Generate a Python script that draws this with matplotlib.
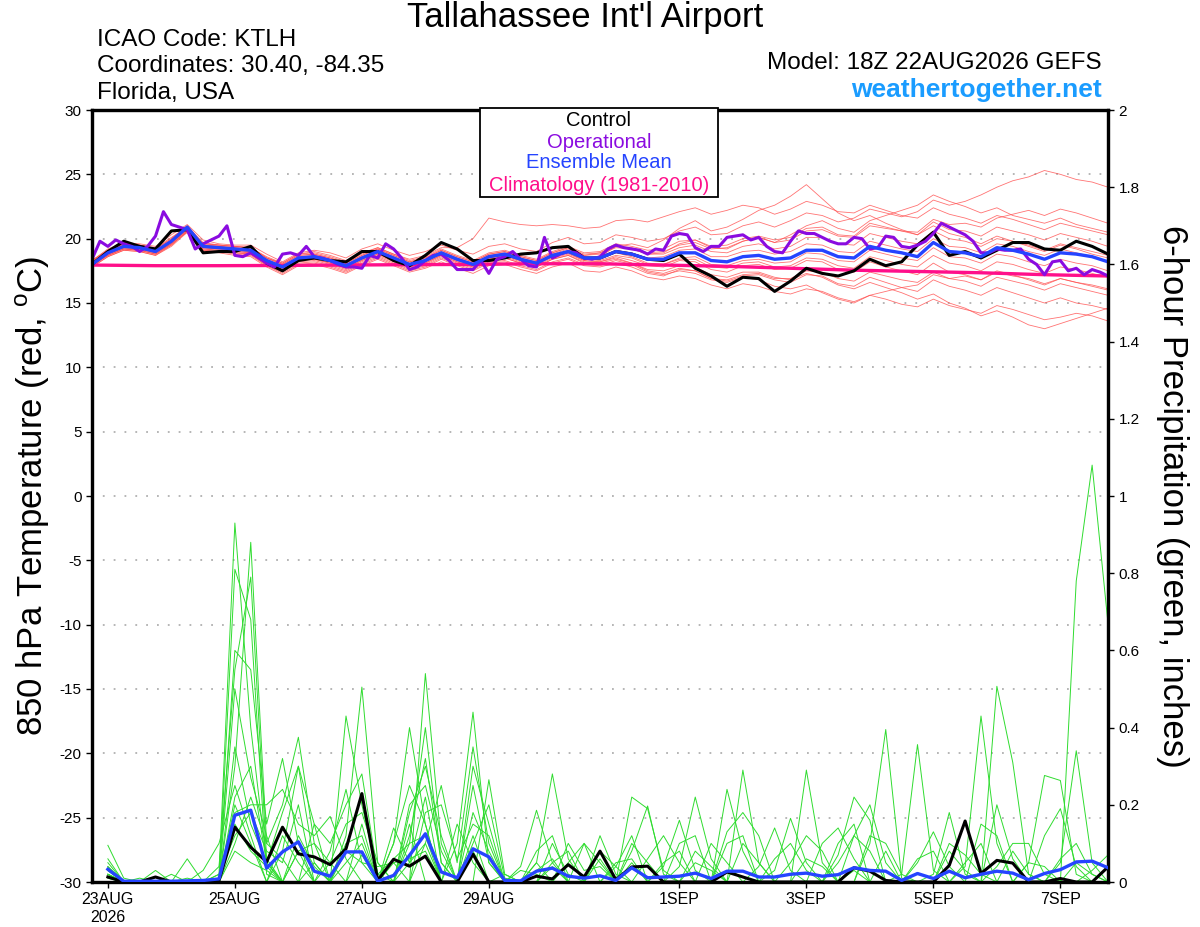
import numpy as np
import matplotlib
matplotlib.use("Agg")
import matplotlib.pyplot as plt
from matplotlib.patches import Rectangle

plt.rcParams['font.family'] = ['Liberation Sans', 'DejaVu Sans']
plt.rcParams['axes.unicode_minus'] = False

# hours after 18Z 22AUG2026
tick_hours = [6, 54, 102, 150, 222, 270, 318, 366]
tick_labels = ["23AUG\n2026", "25AUG", "27AUG", "29AUG", "1SEP", "3SEP", "5SEP", "7SEP"]

# 850 hPa temperature, 6-hourly (65 values)
control_t = [18.0, 19.0, 19.8, 19.4, 19.2, 20.6, 20.7, 18.9, 19.0, 19.0, 19.4, 18.1, 17.5,
             18.3, 18.5, 18.3, 18.2, 19.0, 19.0, 18.3, 17.9, 18.7, 19.7, 19.2, 18.3, 18.3,
             18.5, 18.8, 18.9, 19.3, 19.4, 18.5, 18.5, 19.0, 18.8, 18.4, 18.3, 18.8, 17.7,
             17.1, 16.3, 17.0, 16.9, 15.9, 16.7, 17.7, 17.3, 17.1, 17.5, 18.4, 17.9, 18.2,
             19.5, 20.5, 18.7, 19.0, 18.5, 19.1, 19.7, 19.7, 19.2, 19.1, 19.8, 19.4, 18.8]
mean_t = [18.0, 18.9, 19.4, 19.3, 19.0, 19.8, 20.9, 19.4, 19.3, 19.2, 19.1, 18.3, 17.8,
          18.5, 18.6, 18.3, 17.9, 18.5, 19.0, 18.5, 18.0, 18.3, 18.9, 18.4, 18.0, 18.6,
          18.8, 18.4, 18.1, 18.7, 19.0, 18.5, 18.5, 19.0, 18.8, 18.4, 18.4, 18.9, 18.9,
          18.3, 18.2, 18.6, 18.7, 18.4, 18.5, 19.1, 19.1, 18.6, 18.5, 19.4, 19.1, 18.9,
          18.6, 19.7, 19.0, 18.9, 18.6, 19.3, 19.1, 18.8, 18.4, 18.9, 18.8, 18.6, 18.2]
# operational run is 3-hourly (129 values)
oper_t = [18.4, 19.8, 19.4, 19.9, 19.6, 19.4, 19.0, 19.4, 20.2, 22.1, 21.1, 20.9, 20.7,
          19.2, 19.6, 19.9, 20.2, 21.0, 18.7, 18.6, 18.9, 18.5, 18.1, 17.8, 18.8, 18.9,
          18.7, 19.4, 18.6, 18.5, 18.3, 18.0, 17.8, 17.8, 17.7, 18.7, 18.5, 19.6, 19.2,
          18.5, 17.6, 17.8, 18.3, 18.7, 18.8, 18.3, 17.6, 17.6, 17.6, 18.3, 17.3, 18.4,
          18.6, 19.0, 18.4, 17.9, 17.8, 20.1, 18.5, 18.8, 19.0, 18.9, 18.5, 18.4, 18.6,
          19.2, 19.5, 19.3, 19.2, 19.1, 18.8, 19.2, 19.1, 20.2, 20.4, 20.3, 19.3, 19.0,
          19.4, 19.4, 20.1, 20.2, 20.3, 19.9, 20.1, 19.4, 19.0, 18.9, 19.8, 20.6, 20.4,
          20.4, 20.1, 19.8, 19.6, 19.6, 20.1, 20.0, 19.2, 19.3, 20.2, 20.1, 19.4, 19.3,
          19.5, 19.8, 20.4, 21.2, 20.9, 20.6, 20.3, 19.8, 18.9, 18.9, 19.2, 19.1, 19.1,
          19.2, 18.4, 18.0, 17.2, 18.2, 18.3, 17.5, 17.7, 17.2, 17.6, 17.4, 17.1]
# climatology, daily
clim_t = [17.95, 17.9, 17.9, 17.92, 17.95, 17.98, 18.0, 18.05, 18.05, 17.95, 17.85,
          17.7, 17.55, 17.45, 17.35, 17.2, 17.1]

members_t = [
    [18.3, 19.2, 19.7, 19.6, 19.4, 20.3, 21.1, 19.9, 19.6, 19.5, 19.5, 18.8, 18.2,
     18.9, 19.1, 18.9, 18.5, 19.2, 19.6, 19.1, 18.7, 19.0, 19.5, 19.1, 18.8, 19.4,
     19.6, 19.2, 19.0, 19.7, 20.1, 19.6, 19.7, 20.3, 20.1, 19.8, 20.0, 20.6, 20.9,
     20.3, 20.4, 21.0, 21.3, 20.9, 21.4, 22.0, 21.8, 21.3, 21.6, 22.3, 22.0, 21.7,
     22.1, 23.0, 22.6, 22.9, 23.4, 24.0, 24.5, 24.8, 25.3, 25.0, 24.6, 24.4, 24.0],
    [17.8, 18.6, 19.1, 19.0, 18.7, 19.5, 20.6, 19.0, 18.9, 18.7, 18.6, 17.8, 17.2,
     17.9, 18.0, 17.7, 17.3, 17.9, 18.4, 17.9, 17.4, 17.7, 18.2, 17.7, 17.3, 17.9,
     18.0, 17.6, 17.3, 17.8, 18.1, 17.5, 17.4, 17.8, 17.5, 17.0, 16.8, 17.1, 16.9,
     16.4, 16.1, 16.5, 16.3, 15.9, 15.7, 16.1, 15.9, 15.4, 15.1, 15.6, 15.3, 14.9,
     14.7, 15.3, 14.8, 14.5, 14.2, 14.8, 14.5, 14.1, 13.7, 13.9, 14.2, 14.0, 13.6],
    [18.1, 18.8, 19.3, 19.2, 18.9, 19.6, 20.7, 19.3, 19.2, 19.0, 18.9, 18.1, 17.6,
     18.3, 18.4, 18.1, 17.7, 18.3, 18.8, 18.3, 17.8, 18.1, 18.7, 18.2, 17.8, 18.4,
     18.6, 18.2, 17.9, 18.5, 18.8, 18.3, 18.6, 19.4, 19.6, 19.3, 19.9, 20.8, 21.4,
     20.6, 20.9, 21.5, 22.2, 22.6, 23.3, 24.2, 23.1, 22.0, 21.4, 21.8, 21.2, 20.7,
     20.3, 21.0, 20.4, 20.1, 19.6, 20.2, 19.8, 19.4, 19.0, 19.5, 19.2, 18.8, 18.5],
    [18.2, 19.0, 19.5, 19.4, 19.1, 19.9, 20.8, 19.5, 19.4, 19.3, 19.2, 18.5, 18.0,
     18.7, 18.8, 18.5, 18.1, 18.7, 19.2, 18.7, 18.2, 18.5, 19.1, 18.6, 18.2, 18.8,
     19.0, 18.6, 18.3, 18.9, 19.3, 18.7, 18.9, 19.5, 19.2, 18.8, 18.9, 19.6, 19.9,
     19.3, 19.2, 19.8, 20.1, 19.7, 20.3, 21.0, 21.4, 20.8, 20.5, 21.4, 21.8, 22.2,
     22.6, 23.4, 22.9, 22.5, 22.0, 22.4, 21.8, 21.5, 21.2, 21.6, 21.1, 20.8, 20.5],
    [18.0, 18.7, 19.2, 19.1, 18.8, 19.6, 20.8, 19.2, 19.1, 18.9, 18.8, 18.0, 17.5,
     18.2, 18.3, 18.0, 17.6, 18.2, 18.7, 18.2, 17.7, 18.0, 18.6, 18.1, 17.7, 18.3,
     18.5, 18.1, 17.8, 18.4, 18.7, 18.2, 18.2, 18.6, 18.3, 17.9, 17.8, 18.3, 18.2,
     17.6, 17.4, 17.9, 18.0, 17.6, 17.7, 18.3, 18.2, 17.6, 17.4, 18.2, 17.8, 17.5,
     17.2, 18.1, 17.4, 17.2, 16.8, 17.5, 17.2, 16.8, 16.4, 16.9, 16.6, 16.3, 16.0],
    [18.1, 19.0, 19.6, 19.5, 19.2, 20.0, 21.0, 19.6, 19.5, 19.4, 19.3, 18.5, 18.1,
     18.8, 18.9, 18.6, 18.2, 18.8, 19.3, 18.8, 18.3, 18.6, 19.2, 18.7, 18.3, 18.9,
     19.1, 18.7, 18.4, 19.0, 19.4, 18.9, 19.0, 19.6, 19.4, 19.1, 19.2, 19.8, 19.9,
     19.4, 19.5, 20.0, 20.2, 19.9, 20.1, 20.8, 20.9, 20.3, 20.2, 21.2, 20.9, 20.6,
     20.3, 21.3, 20.7, 20.6, 20.2, 20.9, 20.6, 20.3, 19.9, 20.4, 20.1, 19.8, 19.4],
    [17.9, 18.7, 19.2, 19.1, 18.8, 19.6, 20.5, 19.1, 19.0, 18.9, 18.8, 17.9, 17.4,
     18.1, 18.2, 17.9, 17.5, 18.1, 18.6, 18.1, 17.6, 17.9, 18.5, 18.0, 17.6, 18.2,
     18.3, 17.9, 17.6, 18.2, 18.5, 18.0, 17.9, 18.3, 18.0, 17.4, 17.2, 17.5, 17.3,
     16.8, 16.6, 17.0, 16.8, 16.3, 16.1, 16.4, 15.8, 15.3, 15.0, 15.6, 15.9, 16.2,
     16.4, 17.2, 16.9, 17.1, 16.8, 17.4, 17.1, 16.9, 16.5, 16.9, 16.6, 16.4, 16.1],
    [18.3, 19.1, 19.6, 19.5, 19.3, 20.1, 20.9, 19.7, 19.5, 19.4, 19.3, 18.6, 18.1,
     18.8, 19.0, 18.7, 18.3, 18.9, 19.3, 18.8, 18.4, 18.7, 19.3, 19.3, 20.0, 21.6,
     21.3, 21.1, 21.0, 21.1, 21.0, 20.8, 20.9, 21.4, 21.5, 21.3, 21.7, 22.1, 22.4,
     21.9, 22.2, 22.6, 22.4, 21.9, 22.3, 22.9, 22.6, 22.1, 22.0, 22.6, 22.2, 21.8,
     21.6, 22.4, 21.9, 21.6, 21.2, 21.8, 21.5, 21.1, 20.7, 21.2, 20.9, 20.6, 20.3],
    [18.0, 18.8, 19.3, 19.2, 18.9, 19.7, 20.7, 19.3, 19.2, 19.1, 19.0, 18.2, 17.7,
     18.4, 18.5, 18.2, 17.8, 18.4, 18.9, 18.4, 17.9, 18.2, 18.8, 18.3, 17.9, 18.5,
     18.7, 18.3, 18.0, 18.6, 18.9, 18.4, 18.4, 18.9, 18.6, 18.1, 18.0, 18.5, 18.6,
     18.0, 17.9, 18.3, 18.4, 18.1, 18.2, 18.9, 18.8, 18.3, 18.2, 19.1, 18.8, 18.5,
     18.3, 19.3, 18.6, 18.5, 18.1, 18.8, 18.6, 18.2, 17.9, 18.4, 18.1, 17.9, 17.5],
    [18.1, 18.9, 19.4, 19.3, 19.0, 19.8, 20.6, 19.4, 19.3, 19.1, 19.0, 18.2, 17.7,
     18.4, 18.6, 18.3, 17.9, 18.5, 19.0, 18.5, 18.0, 18.3, 18.9, 18.4, 18.0, 18.5,
     18.7, 18.3, 18.1, 18.6, 18.9, 18.3, 18.2, 18.5, 18.1, 17.5, 17.3, 17.7, 17.5,
     16.9, 16.7, 17.1, 17.2, 16.8, 16.6, 17.2, 17.1, 16.5, 16.3, 17.0, 16.6, 16.2,
     15.9, 16.8, 16.3, 16.0, 15.6, 16.2, 15.8, 15.4, 15.0, 15.4, 15.0, 14.8, 14.5],
    [18.2, 19.0, 19.5, 19.4, 19.1, 19.9, 20.9, 19.5, 19.4, 19.3, 19.2, 18.4, 17.9,
     18.6, 18.7, 18.4, 18.0, 18.6, 19.1, 18.6, 18.1, 18.4, 19.0, 18.5, 18.1, 18.7,
     18.9, 18.5, 18.2, 18.8, 19.2, 18.7, 18.8, 19.3, 19.2, 18.8, 18.8, 19.3, 19.5,
     19.0, 18.9, 19.4, 19.6, 19.2, 19.4, 20.1, 20.1, 19.6, 19.5, 20.4, 20.1, 19.8,
     19.6, 20.6, 20.0, 19.8, 19.4, 20.0, 19.8, 19.5, 19.1, 19.6, 19.3, 19.0, 18.7],
    [17.9, 18.7, 19.2, 19.1, 18.8, 19.5, 20.6, 19.2, 19.1, 19.0, 18.9, 18.1, 17.6,
     18.3, 18.4, 18.1, 17.7, 18.3, 18.8, 18.3, 17.8, 18.1, 18.7, 18.2, 17.8, 18.4,
     18.5, 18.1, 17.8, 18.4, 18.7, 18.1, 18.1, 18.4, 18.1, 17.6, 17.5, 17.9, 17.8,
     17.2, 17.0, 17.4, 17.4, 17.0, 16.8, 17.3, 17.0, 16.4, 16.1, 16.6, 16.2, 15.8,
     15.3, 15.7, 15.0, 14.6, 14.0, 14.4, 13.9, 13.3, 13.0, 13.4, 13.8, 14.2, 14.6],
    [18.2, 19.0, 19.5, 19.3, 19.0, 19.8, 20.9, 19.5, 19.4, 19.2, 19.1, 18.3, 17.8,
     18.5, 18.6, 18.3, 17.9, 18.5, 19.0, 18.5, 18.0, 18.3, 18.9, 18.4, 18.0, 18.6,
     18.8, 18.4, 18.1, 18.7, 19.0, 18.5, 18.6, 19.1, 18.9, 18.5, 18.6, 19.1, 19.2,
     18.6, 18.6, 19.0, 19.1, 18.8, 19.0, 19.6, 19.5, 19.0, 18.9, 19.8, 19.5, 19.2,
     19.0, 20.0, 19.4, 19.3, 18.9, 19.6, 19.4, 19.0, 18.7, 19.2, 18.9, 18.6, 18.2],
    [18.0, 18.8, 19.3, 19.2, 18.9, 19.7, 20.8, 19.3, 19.2, 19.1, 19.0, 18.2, 17.7,
     18.4, 18.5, 18.2, 17.8, 18.4, 18.9, 18.4, 17.9, 18.2, 18.8, 18.3, 17.9, 18.5,
     18.7, 18.3, 18.0, 18.6, 18.9, 18.4, 18.3, 18.7, 18.5, 18.0, 18.0, 18.4, 18.4,
     17.8, 17.7, 18.1, 18.2, 17.8, 17.9, 18.5, 18.4, 17.9, 17.7, 18.6, 18.3, 18.0,
     17.8, 18.7, 18.1, 17.9, 17.5, 18.2, 18.0, 17.6, 17.3, 17.8, 17.6, 17.3, 17.0],
    [18.3, 19.1, 19.6, 19.5, 19.2, 20.0, 21.0, 19.6, 19.5, 19.4, 19.3, 18.5, 18.0,
     18.7, 18.8, 18.5, 18.1, 18.7, 19.2, 18.7, 18.2, 18.5, 19.1, 18.6, 18.2, 18.8,
     19.0, 18.6, 18.3, 18.9, 19.3, 18.8, 18.9, 19.4, 19.3, 18.9, 19.0, 19.5, 19.7,
     19.2, 19.3, 19.8, 20.1, 19.7, 19.9, 20.6, 20.7, 20.2, 20.1, 21.0, 20.8, 20.6,
     20.5, 21.5, 21.1, 21.2, 20.9, 21.6, 21.9, 22.2, 21.8, 22.3, 22.0, 21.6, 21.2],
    [17.8, 18.6, 19.1, 19.0, 18.7, 19.4, 20.5, 19.1, 19.0, 18.8, 18.7, 17.9, 17.3,
     18.0, 18.1, 17.8, 17.4, 18.0, 18.5, 18.0, 17.5, 17.8, 18.4, 17.9, 17.5, 18.1,
     18.2, 17.8, 17.5, 18.1, 18.4, 17.9, 17.8, 18.1, 17.8, 17.3, 17.1, 17.6, 17.5,
     16.9, 16.8, 17.2, 17.3, 16.9, 16.9, 17.5, 17.4, 16.9, 16.7, 17.4, 17.1, 16.8,
     16.6, 17.4, 16.9, 16.7, 16.3, 17.0, 16.7, 16.4, 16.0, 16.5, 16.2, 15.9, 15.6],
]

# 6-hour precipitation, ending 00Z 23AUG onwards (64 values)
control_p = [0.013, 0.0, 0.0, 0.013, 0.0, 0.0, 0.0, 0.004, 0.142, 0.09, 0.052, 0.142,
             0.073, 0.065, 0.045, 0.086, 0.229, 0.004, 0.059, 0.041, 0.067, 0.0, 0.0,
             0.072, 0.0, 0.0, 0.0, 0.015, 0.008, 0.045, 0.013, 0.08, 0.006, 0.039, 0.041,
             0.0, 0.0, 0.0, 0.0, 0.026, 0.013, 0.0, 0.0, 0.0, 0.0, 0.0, 0.0, 0.037, 0.028,
             0.004, 0.0, 0.0, 0.0, 0.043, 0.158, 0.022, 0.056, 0.049, 0.0, 0.0, 0.009,
             0.0, 0.0, 0.039]
mean_p = [0.033, 0.002, 0.002, 0.002, 0.002, 0.003, 0.004, 0.008, 0.173, 0.186, 0.036,
          0.078, 0.104, 0.028, 0.015, 0.078, 0.078, 0.002, 0.017, 0.069, 0.125, 0.026,
          0.011, 0.086, 0.065, 0.004, 0.003, 0.028, 0.036, 0.015, 0.01, 0.016, 0.004,
          0.037, 0.011, 0.013, 0.015, 0.023, 0.009, 0.028, 0.028, 0.013, 0.013, 0.02,
          0.023, 0.015, 0.019, 0.037, 0.03, 0.028, 0.004, 0.022, 0.009, 0.028, 0.011,
          0.02, 0.028, 0.023, 0.006, 0.022, 0.032, 0.052, 0.054, 0.037]

# members: {6-h period number: inches}, periods not listed are dry
members_p = [
    {1: 0.03, 8: 0.02, 9: 0.93, 10: 0.40, 11: 0.05, 13: 0.08, 17: 0.15, 19: 0.05,
     21: 0.54, 22: 0.10, 24: 0.12, 29: 0.04, 34: 0.05, 41: 0.29, 42: 0.05, 48: 0.03,
     57: 0.507, 58: 0.31, 59: 0.02},
    {1: 0.06, 9: 0.81, 10: 0.68, 11: 0.02, 14: 0.05, 16: 0.43, 17: 0.20, 18: 0.02,
     20: 0.15, 25: 0.265, 26: 0.02, 34: 0.22, 35: 0.19, 36: 0.03, 45: 0.29, 46: 0.05,
     55: 0.04, 56: 0.43, 57: 0.10, 62: 0.78, 63: 1.08, 64: 0.67},
    {1: 0.02, 9: 0.30, 10: 0.88, 11: 0.10, 12: 0.20, 13: 0.375, 14: 0.10, 19: 0.10,
     20: 0.40, 21: 0.15, 28: 0.05, 29: 0.28, 30: 0.06, 37: 0.04, 38: 0.22, 39: 0.06,
     49: 0.10, 50: 0.395, 51: 0.01, 59: 0.05, 60: 0.276, 61: 0.263, 62: 0.02},
    {1: 0.04, 6: 0.06, 8: 0.04, 9: 0.55, 10: 0.79, 11: 0.06, 16: 0.12, 17: 0.505,
     18: 0.05, 23: 0.10, 24: 0.44, 25: 0.05, 32: 0.12, 33: 0.02, 40: 0.24, 41: 0.08,
     51: 0.02, 52: 0.356, 53: 0.03, 61: 0.05, 62: 0.34, 63: 0.05},
    {1: 0.095, 2: 0.01, 9: 0.60, 10: 0.55, 11: 0.15, 12: 0.32, 13: 0.10, 20: 0.10,
     21: 0.40, 22: 0.05, 27: 0.03, 28: 0.02, 34: 0.08, 35: 0.197, 36: 0.02, 47: 0.07,
     48: 0.22, 49: 0.16, 53: 0.02, 54: 0.18, 55: 0.02},
    {1: 0.03, 5: 0.02, 9: 0.50, 10: 0.27, 11: 0.12, 15: 0.08, 16: 0.24, 17: 0.05,
     20: 0.12, 21: 0.32, 22: 0.05, 27: 0.04, 28: 0.186, 29: 0.05, 36: 0.04, 37: 0.16,
     38: 0.03, 43: 0.03, 44: 0.165, 45: 0.05, 58: 0.08, 59: 0.02},
    {1: 0.02, 7: 0.03, 8: 0.10, 9: 0.25, 10: 0.12, 12: 0.08, 13: 0.30, 14: 0.05,
     21: 0.10, 22: 0.25, 23: 0.05, 24: 0.35, 25: 0.10, 31: 0.10, 32: 0.05, 42: 0.04,
     43: 0.14, 44: 0.03, 57: 0.04, 58: 0.10, 59: 0.10, 60: 0.02},
    {1: 0.01, 9: 0.18, 10: 0.20, 11: 0.20, 12: 0.24, 13: 0.15, 14: 0.12, 15: 0.17,
     16: 0.06, 20: 0.20, 21: 0.25, 22: 0.08, 24: 0.10, 25: 0.20, 26: 0.01, 30: 0.10,
     31: 0.03, 32: 0.04, 39: 0.10, 40: 0.05, 46: 0.10, 47: 0.14, 48: 0.06, 63: 0.03,
     64: 0.07},
    {1: 0.05, 4: 0.03, 9: 0.22, 10: 0.30, 11: 0.05, 12: 0.18, 13: 0.30, 14: 0.15,
     16: 0.10, 17: 0.12, 19: 0.14, 20: 0.05, 21: 0.22, 24: 0.25, 25: 0.05, 29: 0.10,
     30: 0.02, 33: 0.04, 34: 0.12, 37: 0.10, 38: 0.12, 48: 0.12, 49: 0.20, 50: 0.05,
     54: 0.10, 55: 0.07, 56: 0.02},
    {1: 0.02, 3: 0.01, 9: 0.15, 10: 0.08, 11: 0.04, 14: 0.15, 15: 0.10, 16: 0.20,
     17: 0.28, 18: 0.02, 19: 0.06, 20: 0.10, 21: 0.12, 23: 0.15, 24: 0.05, 32: 0.08,
     33: 0.04, 40: 0.13, 41: 0.18, 42: 0.12, 50: 0.08, 56: 0.15, 57: 0.12, 60: 0.12,
     61: 0.19, 62: 0.04},
    {1: 0.03, 8: 0.02, 9: 0.12, 10: 0.18, 11: 0.08, 12: 0.05, 13: 0.20, 16: 0.05,
     17: 0.10, 20: 0.18, 21: 0.30, 22: 0.12, 26: 0.02, 28: 0.08, 29: 0.12, 35: 0.06,
     36: 0.12, 37: 0.05, 44: 0.05, 45: 0.12, 46: 0.08, 52: 0.05, 53: 0.13, 54: 0.04,
     62: 0.05, 63: 0.02},
    {1: 0.01, 9: 0.20, 10: 0.10, 12: 0.12, 13: 0.05, 15: 0.05, 16: 0.15, 17: 0.18,
     18: 0.05, 21: 0.18, 22: 0.20, 23: 0.06, 24: 0.15, 25: 0.12, 30: 0.05, 31: 0.10,
     38: 0.08, 39: 0.04, 41: 0.10, 42: 0.05, 47: 0.05, 48: 0.12, 49: 0.08, 55: 0.05,
     56: 0.10, 64: 0.04},
    {1: 0.04, 6: 0.01, 9: 0.35, 10: 0.15, 11: 0.05, 13: 0.12, 14: 0.04, 17: 0.07,
     19: 0.10, 20: 0.25, 21: 0.15, 24: 0.30, 25: 0.15, 28: 0.05, 32: 0.06, 34: 0.10,
     35: 0.05, 43: 0.06, 44: 0.10, 45: 0.03, 49: 0.12, 50: 0.10, 51: 0.02, 57: 0.20,
     58: 0.06},
    {1: 0.03, 9: 0.10, 10: 0.22, 11: 0.10, 12: 0.06, 16: 0.08, 17: 0.05, 18: 0.04,
     19: 0.05, 20: 0.06, 21: 0.08, 24: 0.18, 25: 0.08, 29: 0.05, 30: 0.08, 36: 0.05,
     37: 0.08, 40: 0.10, 41: 0.12, 47: 0.10, 48: 0.15, 52: 0.06, 53: 0.08, 59: 0.05,
     60: 0.04},
    {1: 0.02, 9: 0.08, 10: 0.05, 11: 0.03, 13: 0.08, 14: 0.10, 15: 0.05, 20: 0.05,
     21: 0.10, 24: 0.08, 28: 0.03, 29: 0.06, 33: 0.05, 34: 0.06, 38: 0.05, 39: 0.03,
     45: 0.06, 46: 0.04, 54: 0.08, 55: 0.03, 61: 0.06, 62: 0.10, 63: 0.02},
]

hours_t = np.arange(len(control_t)) * 6
hours_p = (np.arange(len(control_p)) + 1) * 6
hours_oper = np.arange(len(oper_t)) * 3
hours_clim = np.arange(len(clim_t)) * 24

fig = plt.figure(figsize=(12, 9.27), dpi=100)
ax = fig.add_axes([92 / 1200, 1 - 882 / 927, 1016 / 1200, 772 / 927])
ax2 = ax.twinx()

# temperature
for m in members_t:
    ax.plot(hours_t, m, color="#ff5050", lw=0.6, alpha=0.8, zorder=2)
ax.plot(hours_clim, clim_t, color="#ff0f8a", lw=2.4, zorder=3)
ax.plot(hours_t, control_t, color="black", lw=2.2, zorder=4)
ax.plot(hours_oper, oper_t, color="#8a0be0", lw=2.2, zorder=5)
ax.plot(hours_t, mean_t, color="#2544ff", lw=2.4, zorder=6)

# precipitation
for d in members_p:
    vals = np.zeros(len(control_p))
    for per, v in d.items():
        vals[per - 1] = v
    ax2.plot(hours_p, vals, color="#2fdc2f", lw=0.7, zorder=2)
ax2.plot(hours_p, control_p, color="black", lw=2.2, zorder=4)
ax2.plot(hours_p, mean_p, color="#2544ff", lw=2.4, zorder=5)

ax.set_xlim(0, 384)
ax.set_ylim(-30, 30)
ax2.set_ylim(0, 2)
ax.set_yticks(np.arange(-30, 31, 5))
ax2.set_yticks(np.arange(0, 2.01, 0.2))
ax2.set_yticklabels(["%g" % v for v in np.arange(0, 2.01, 0.2).round(1)])
ax.set_xticks(tick_hours)
ax.set_xticklabels(tick_labels)
for y in range(-25, 30, 5):
    ax.axhline(y, color="#b0b0b0", lw=1.3, ls=(0, (1, 5)), zorder=1)

for a in (ax, ax2):
    for s in a.spines.values():
        s.set_linewidth(2.3)
    a.tick_params(labelsize=11, length=4, width=1, direction="out")
ax.tick_params(axis="x", labelsize=11.5, length=4)

ax.set_ylabel("850 hPa Temperature (red, $^\\mathregular{o}$C)", fontsize=25, va="center")
ax.yaxis.set_label_coords(-0.058, 0.5)
ax2.set_ylabel("6-hour Precipitation (green, inches)", fontsize=25, rotation=270,
               va="center")
ax2.yaxis.set_label_coords(1.063, 0.5)

fig.text(0.4875, 0.9806, "Tallahassee Int'l Airport", fontsize=25, ha="center", va="center")
fig.text(0.0808, 0.9569, "ICAO Code: KTLH", fontsize=17.5, va="center")
fig.text(0.0808, 0.9288, "Coordinates: 30.40, -84.35", fontsize=17.5, va="center")
fig.text(0.0808, 0.8997, "Florida, USA", fontsize=17.5, va="center")
fig.text(0.9183, 0.932, "Model: 18Z 22AUG2026 GEFS", fontsize=17.5, ha="right", va="center")
fig.text(0.9183, 0.9029, "weathertogether.net", fontsize=19, ha="right", va="center",
         color="#1a9cff", fontweight="bold")

# legend box
fig.patches.append(Rectangle((0.4, 0.7875), 0.198, 0.096, transform=fig.transFigure,
                             facecolor="white", edgecolor="black", lw=1.3, zorder=10))
legend_items = [("Control", "black", 0.8695), ("Operational", "#8a0be0", 0.8468),
                ("Ensemble Mean", "#2544ff", 0.8242),
                ("Climatology (1981-2010)", "#ff0f8a", 0.8004)]
for txt, col, yy in legend_items:
    fig.text(0.499, yy, txt, color=col, fontsize=14.5, ha="center", va="center", zorder=11)

fig.savefig("out.png", dpi=100)
